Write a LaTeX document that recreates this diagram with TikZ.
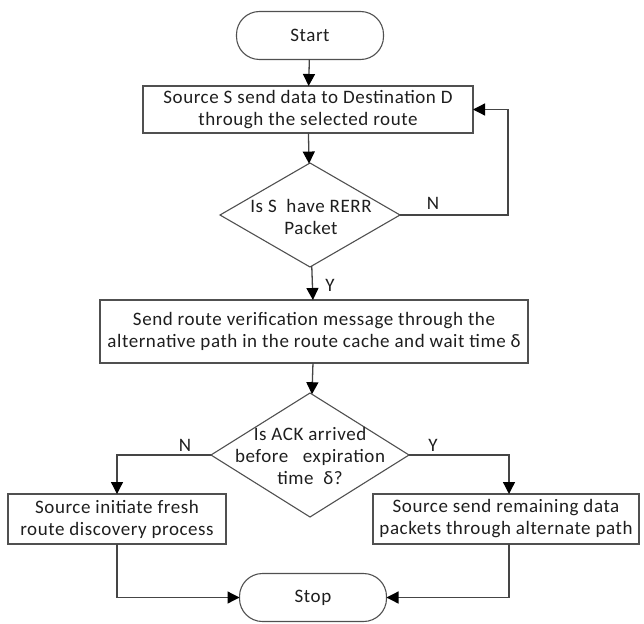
\documentclass[tikz,border=0pt]{standalone}
\usepackage{fontspec}
\setmainfont{Carlito}[LetterSpace=3]
\usetikzlibrary{shapes.geometric,arrows.meta}
\definecolor{edge}{HTML}{505050}
\definecolor{wire}{HTML}{454545}
\definecolor{txt}{HTML}{1E1E1E}
\begin{document}
\begin{tikzpicture}[x=1pt,y=-1pt,
  every node/.style={font=\fontsize{19}{22}\selectfont, text=txt},
  terminal/.style={draw=edge, line width=1.1pt, rectangle, rounded corners=23pt,
    minimum width=147pt, minimum height=48pt, inner sep=0pt, outer sep=0pt},
  procbox/.style={draw=edge, line width=1.1pt, minimum height=50pt,
    inner sep=0pt, outer sep=0pt, align=center},
  decision/.style={draw=edge, line width=1.1pt, diamond, inner sep=0pt, outer sep=0pt},
  flow/.style={draw=wire, line width=1.3pt,
    -{Triangle[length=12pt,width=12pt,color=black]}},
  answer/.style={inner sep=0pt}
]
\useasboundingbox (0,0) rectangle (644,623);

% terminals
\node[terminal] (start) at (310,35.5) {Start};
\node[terminal] (stop) at (313,597.5) {Stop};

% process boxes
\node[procbox, minimum width=330pt, minimum height=47pt] (send) at (308,109.5)
  {Source S send data to Destination D\\through the selected route};
\node[procbox, minimum width=428pt, minimum height=63pt] (verify) at (314,331.5)
  {Send route verification message through the\\alternative path in the route cache and wait time δ};
\node[procbox, minimum width=218pt] (fresh) at (117,519)
  {Source initiate fresh\\route discovery process};
\node[procbox, minimum width=266pt] (alt) at (506,519)
  {Source send remaining data\\packets through alternate path};

% decisions
\node[decision, minimum width=180pt, minimum height=104pt] (rerr) at (310,215) {};
\node[align=center, inner sep=0pt] (rerrtxt) at (311,217) {Is S~ have RERR\\Packet};
\node[decision, minimum width=198pt, minimum height=124pt] (ack) at (310,455) {};
\node[align=center, inner sep=0pt] (acktxt) at (310,456) {Is ACK arrived\\before~~ expiration\\time~ δ?};

% connectors
\draw[flow] (start) -- (send);
\draw[flow] (send) -- (rerr);
\draw[flow] (rerr.east) -- ++(108,0) |- (send.east);
\draw[flow] (rerr) -- (verify);
\draw[flow] (verify) -- (ack);
\draw[flow] (ack.west) -| (fresh.north);
\draw[flow] (ack.east) -| ([xshift=3pt]alt.north);
\draw[flow] (fresh.south) |- (stop.west);
\draw[flow] ([xshift=3pt]alt.south) |- (stop.east);

% branch labels
\node[answer] (n1) at (433,203) {N};
\node[answer] (y1) at (330,285) {Y};
\node[answer] (n2) at (185,445) {N};
\node[answer] (y2) at (433,445) {Y};
\end{tikzpicture}
\end{document}
